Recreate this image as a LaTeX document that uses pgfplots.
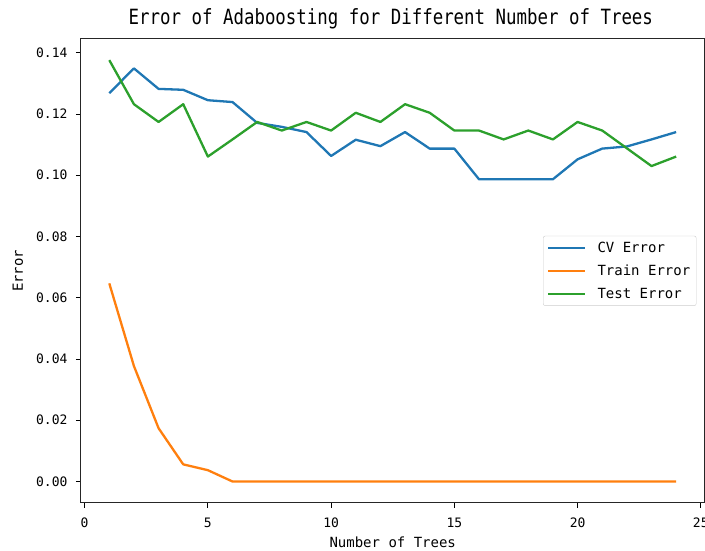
\documentclass[border=0pt]{standalone}
\usepackage{pgfplots}
\pgfplotsset{compat=1.18}
\usepackage{fontspec}
\setmainfont{DejaVu Sans Mono}
\newfontfamily\titlefont[FakeStretch=0.83]{DejaVu Sans Mono}
\definecolor{c1}{HTML}{1F77B4}
\definecolor{c2}{HTML}{FF7F0E}
\definecolor{c3}{HTML}{2CA02C}
\begin{document}
\begin{tikzpicture}
\begin{axis}[
  scale only axis,
  width=624pt, height=464pt,
  xmin=-0.15, xmax=25.15,
  ymin=-0.0069, ymax=0.1445,
  xtick={0,5,10,15,20,25},
  ytick={0,0.02,0.04,0.06,0.08,0.10,0.12,0.14},
  yticklabel style={/pgf/number format/fixed,/pgf/number format/precision=2,/pgf/number format/fixed zerofill},
  /pgf/number format/assume math mode=true,
  scaled y ticks=false,
  tick align=outside,
  tick pos=left,
  major tick length=5pt,
  every tick/.style={black, line width=0.9pt},
  axis line style={line width=1pt, black!85},
  ticklabel style={font=\fontsize{13}{15}\selectfont},
  xticklabel style={yshift=-7pt},
  yticklabel style={xshift=-5pt},
  every axis title/.style={at={(axis description cs:0.497,1.043)}, anchor=center,
    font=\titlefont\fontsize{21}{24}\selectfont},
  title={Error of Adaboosting for Different Number of Trees},
  xlabel={Number of Trees},
  ylabel={Error},
  every axis x label/.style={at={(axis description cs:0.5,-0.086)}, anchor=center, font=\fontsize{14}{16}\selectfont},
  every axis y label/.style={at={(axis description cs:-0.101,0.5)}, rotate=90, anchor=center, font=\fontsize{14}{16}\selectfont},
  legend style={at={(0.987,0.5)}, anchor=east, font=\fontsize{14}{16}\selectfont,
    draw=black!20, rounded corners=2pt, fill=white, inner xsep=4pt, inner ysep=4pt,
    row sep=7pt},
  legend cell align=left,
  legend image code/.code={\draw[#1,line width=2.3pt] (0pt,0pt) -- (37pt,0pt); \path (46pt,0pt);},
  every axis plot/.append style={line width=2.3pt, line join=round},
]
\addplot[c1] coordinates {(1,0.1268)(2,0.1349)(3,0.1282)(4,0.1279)(5,0.1245)(6,0.1239)(7,0.1171)(8,0.1158)(9,0.1141)(10,0.1063)(11,0.1116)(12,0.1095)(13,0.1141)(14,0.1087)(15,0.1087)(16,0.0987)(17,0.0987)(18,0.0987)(19,0.0987)(20,0.1052)(21,0.1087)(22,0.1094)(23,0.1117)(24,0.1141)};
\addlegendentry{CV Error}
\addplot[c2] coordinates {(1,0.0647)(2,0.0377)(3,0.0174)(4,0.0056)(5,0.0037)(6,0)(7,0)(8,0)(9,0)(10,0)(11,0)(12,0)(13,0)(14,0)(15,0)(16,0)(17,0)(18,0)(19,0)(20,0)(21,0)(22,0)(23,0)(24,0)};
\addlegendentry{Train Error}
\addplot[c3] coordinates {(1,0.1376)(2,0.1232)(3,0.1174)(4,0.1232)(5,0.1061)(6,0.1117)(7,0.1174)(8,0.1146)(9,0.1174)(10,0.1146)(11,0.1204)(12,0.1174)(13,0.1232)(14,0.1204)(15,0.1146)(16,0.1146)(17,0.1117)(18,0.1146)(19,0.1117)(20,0.1174)(21,0.1146)(22,0.1088)(23,0.1030)(24,0.1061)};
\addlegendentry{Test Error}
\end{axis}
\pgfresetboundingbox
\path[use as bounding box] ([xshift=-81pt,yshift=-48pt]current axis.south west) rectangle ([xshift=0.5pt,yshift=39pt]current axis.north east);
\end{tikzpicture}
\end{document}
